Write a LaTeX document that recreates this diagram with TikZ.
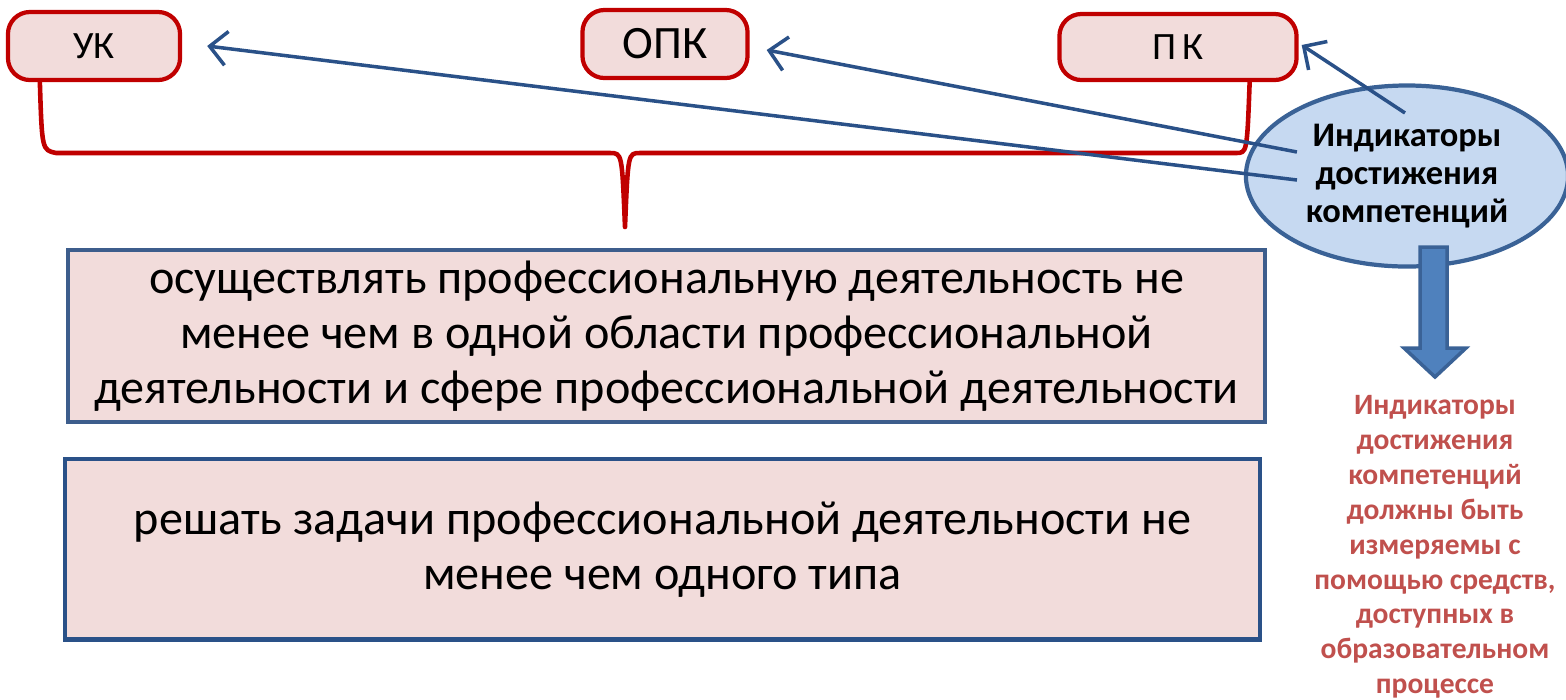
\documentclass[tikz,border=0pt]{standalone}
\usepackage{fontspec}
\setmainfont{Carlito}
\usetikzlibrary{positioning,shapes.geometric,arrows.meta}
\definecolor{boxpink}{HTML}{F2DCDB}
\definecolor{bracered}{HTML}{C00000}
\definecolor{linkblue}{HTML}{2A5188}
\definecolor{frameblue}{HTML}{3D5D8C}
\definecolor{ovalfill}{HTML}{C6D9F1}
\definecolor{ovalline}{HTML}{3A6296}
\definecolor{arrowfill}{HTML}{4F81BD}
\definecolor{notered}{HTML}{C0504D}
\tikzset{
  kbox/.style={draw=bracered, fill=boxpink, line width=1.2pt, rounded corners=2.2mm, inner sep=0pt},
  mainbox/.style={draw=frameblue, fill=boxpink, line width=1.2pt, inner sep=0pt, align=center,
    font=\fontsize{13.7}{15.6}\selectfont},
  link/.style={draw=linkblue, line width=1pt, -{Straight Barb[length=1.7mm,width=3.4mm,line width=1pt]}}
}
\begin{document}
\begin{tikzpicture}[x=0.01cm,y=-0.01cm]
\useasboundingbox (0,0) rectangle (1566,699);
% competence groups
\node[kbox, minimum width=1.72cm, minimum height=0.68cm, font=\fontsize{11}{13}\selectfont] (uk) at (94,46) {УК};
\node[kbox, minimum width=1.65cm, minimum height=0.68cm, font=\fontsize{13.2}{16}\selectfont] (opk) at (665,44) {ОПК};
\node[kbox, minimum width=2.37cm, minimum height=0.66cm, font=\fontsize{11}{13}\selectfont] (pk) at (1178,47) {П\,К};
% brace
\coordinate (tip) at (625,227);
\draw[bracered, line width=1.3pt, line cap=round, line join=round]
  ([xshift=0.34cm]uk.south west) .. controls (42,150) .. (56,153) -- (610,153)
  .. controls (622,153) .. (tip) .. controls (628,153) .. (640,153) -- (1236,153)
  .. controls (1247,153) .. ([xshift=-0.49cm]pk.south east);
% graduate tasks
\node[mainbox, minimum width=11.97cm, minimum height=1.72cm] (task1) at (666.5,336)
  {осуществлять профессиональную деятельность не\\менее чем в одной области профессиональной\\деятельности и сфере профессиональной деятельности};
\node[mainbox, draw=linkblue, minimum width=11.95cm, minimum height=1.80cm, below=0.33cm of task1.south, anchor=north, xshift=-0.04cm] (task2)
  {решать задачи профессиональной деятельности не\\менее чем одного типа};
% indicators
\node[ellipse, draw=ovalline, fill=ovalfill, line width=1.2pt, minimum width=3.22cm, minimum height=1.76cm,
  align=center, font=\bfseries\fontsize{9.8}{10.9}\selectfont] (ind) at (1407,176)
  {Индикаторы\\достижения\\компетенций};
\draw[link] ([xshift=-1.1cm,yshift=-0.04cm]ind.center) -- ([xshift=0.25cm]uk.east);
\draw[link] ([xshift=-1.1cm,yshift=0.24cm]ind.center) -- ([xshift=0.17cm,yshift=-0.06cm]opk.east);
\draw[link] ([xshift=-0.02cm,yshift=0.63cm]ind.center) -- ([xshift=0.03cm,yshift=0.02cm]pk.east);
% block arrow
\draw[draw=ovalline, fill=arrowfill, line width=1pt, line join=miter]
  (1420,247) -- (1447,247) -- (1447,348) -- (1466,348) -- (1435,377) -- (1404,348) -- (1420,348) -- cycle;
\node[text=notered, align=center, font=\bfseries\fontsize{8.4}{9.9}\selectfont] (note) at (1435,547)
  {Индикаторы\\достижения\\компетенций\\должны быть\\измеряемы с\\помощью средств,\\доступных в\\образовательном\\процессе};
\end{tikzpicture}
\end{document}
